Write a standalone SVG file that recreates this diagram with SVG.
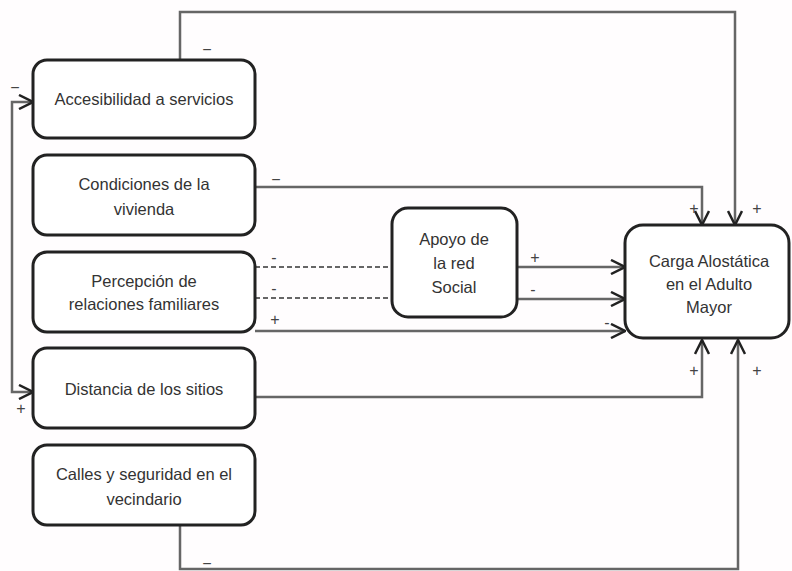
<svg xmlns="http://www.w3.org/2000/svg" width="792" height="571" viewBox="0 0 792 571">
<defs>
<style>
.box{fill:#ffffff;stroke:#222;stroke-width:3}
.t{font-family:"Liberation Sans",Arial,sans-serif;font-size:16.5px;fill:#333;text-anchor:middle}
.c{fill:none;stroke:#666;stroke-width:2.5}
.d{fill:none;stroke:#666;stroke-width:2.2;stroke-dasharray:5 3}
.l{font-family:"Liberation Sans",Arial,sans-serif;font-size:16px;fill:#444;text-anchor:middle}
</style>
<marker id="ah" viewBox="0 0 16 16" refX="15" refY="8" markerWidth="16" markerHeight="16" markerUnits="userSpaceOnUse" orient="auto">
<path d="M1,1 L15,8 L1,15" fill="none" stroke="#222" stroke-width="2.5"/>
</marker>
</defs>
<rect width="792" height="571" fill="#fffdfe"/>
<g id="connectors">
<path class="c" d="M180,60 V12 H735 V225" marker-end="url(#ah)"/>
<path class="c" d="M255,187 H702 V225" marker-end="url(#ah)"/>
<path class="d" d="M255,267 H392"/>
<path class="d" d="M255,298 H392"/>
<path class="c" d="M255,331 H625" marker-end="url(#ah)"/>
<path class="c" d="M517,267 H625" marker-end="url(#ah)"/>
<path class="c" d="M517,299 H625" marker-end="url(#ah)"/>
<path class="c" d="M255,397 H702 V340" marker-end="url(#ah)"/>
<path class="c" d="M180,525 V569 H738 V340" marker-end="url(#ah)"/>
<path class="c" d="M12,247 V102 H33" marker-end="url(#ah)"/>
<path class="c" d="M12,247 V392 H33" marker-end="url(#ah)"/>
<text class="l" x="207" y="55">−</text>
<text class="l" x="276" y="185">−</text>
<text class="l" x="274" y="263">-</text>
<text class="l" x="274" y="294">-</text>
<text class="l" x="275" y="325">+</text>
<text class="l" x="535" y="263">+</text>
<text class="l" x="533" y="295">-</text>
<text class="l" x="607" y="328">-</text>
<text class="l" x="694" y="214">+</text>
<text class="l" x="757" y="214">+</text>
<text class="l" x="694" y="376">+</text>
<text class="l" x="757" y="376">+</text>
<text class="l" x="15" y="93">−</text>
<text class="l" x="21" y="414">+</text>
<text class="l" x="207" y="569">−</text>
</g>
<g id="accesibilidad">
<rect class="box" x="33" y="60" width="222" height="78" rx="14"/>
<text class="t" x="144" y="105">Accesibilidad a servicios</text>
</g>
<g id="condiciones">
<rect class="box" x="33" y="155" width="222" height="80" rx="14"/>
<text class="t" x="144" y="190">Condiciones de la</text>
<text class="t" x="144" y="215">vivienda</text>
</g>
<g id="percepcion">
<rect class="box" x="33" y="252" width="222" height="80" rx="14"/>
<text class="t" x="144" y="287">Percepción de</text>
<text class="t" x="144" y="310">relaciones familiares</text>
</g>
<g id="distancia">
<rect class="box" x="33" y="348" width="222" height="80" rx="14"/>
<text class="t" x="144" y="395">Distancia de los sitios</text>
</g>
<g id="calles">
<rect class="box" x="33" y="445" width="222" height="80" rx="14"/>
<text class="t" x="144" y="480">Calles y seguridad en el</text>
<text class="t" x="144" y="505">vecindario</text>
</g>
<g id="apoyo">
<rect class="box" x="392" y="208" width="125" height="109" rx="16"/>
<text class="t" x="454" y="245">Apoyo de</text>
<text class="t" x="454" y="269">la red</text>
<text class="t" x="454" y="293">Social</text>
</g>
<g id="carga">
<rect class="box" x="625" y="225" width="164" height="113" rx="18"/>
<text class="t" x="709" y="267">Carga Alostática</text>
<text class="t" x="709" y="290">en el Adulto</text>
<text class="t" x="709" y="313">Mayor</text>
</g>
</svg>
